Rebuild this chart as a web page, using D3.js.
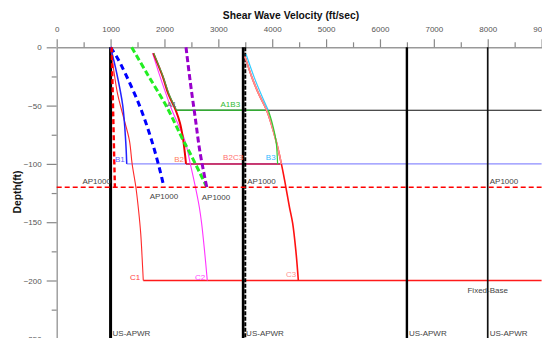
<!DOCTYPE html>
<html>
<head>
<meta charset="utf-8">
<script src="https://cdn.jsdelivr.net/npm/d3@7"></script>
<style>
  body { margin: 0; background: #fff; }
  svg { display: block; font-family: "Liberation Sans", Arial, sans-serif; }
</style>
</head>
<body>
<svg id="chart" width="542" height="338"></svg>
<script>
// axis ticks
var velTicks = [0, 1000, 2000, 3000, 4000, 5000, 6000, 7000, 8000, 9000];
var velMinor = [500, 1500, 2500, 3500, 4500, 5500, 6500, 7500, 8500];
var depthTicks = [0, -50, -100, -150, -200, -250];
var depthMinor = [-25, -75, -125, -175, -225];

// design profiles: [velocity ft/s, depth ft]
var ap1000Red = [[1020, 0], [1050, -60], [1080, -120]];
var ap1000Blue = [[1000, 0], [1113, -8], [1268, -22], [1546, -51], [1763, -80], [1930, -108], [1990, -120]];
var ap1000Green = [[1392, 0], [1670, -22], [2041, -51], [2350, -80], [2443, -88], [2660, -108], [2785, -120]];
var ap1000Purple = [[2400, 0], [2480, -30], [2570, -60], [2660, -90], [2785, -120]];

// site profiles
var profB1 = [[1000, 0], [1113, -22], [1226, -50], [1280, -80], [1300, -100]];
var profC1 = [[1000, 0], [1060, -20], [1130, -40], [1240, -60], [1350, -80], [1400, -100], [1470, -120],
              [1520, -140], [1560, -160], [1585, -180], [1607, -200]];
var profC2 = [[1780, -5], [1917, -25], [2029, -40], [2140, -54], [2380, -80], [2480, -100], [2575, -120],
              [2647, -137], [2690, -151], [2745, -175], [2795, -200]];
var profB2 = [[1793, -5], [1967, -25], [2072, -40], [2210, -54], [2288, -65], [2350, -80], [2400, -100]];
var profA1 = [[1800, -5], [1975, -25], [2085, -40], [2225, -54]];
var profB3top = [[3514, -6], [3668, -26], [3792, -40], [3927, -54]];
var profB3low = [[3927, -54], [4000, -65], [4070, -80], [4100, -100]];
var profC3 = [[3495, -8], [3625, -26], [3749, -40], [3897, -54], [4070, -80], [4170, -100], [4230, -114],
              [4320, -137], [4380, -151], [4440, -175], [4485, -200]];
var profB2C3 = [[3495, -8], [3625, -26], [3749, -40], [3897, -54], [4070, -80], [4170, -100]];

// half-space lines: [depth, from velocity, to velocity]
var baseA1 = [-54, 2225, 3927];
var baseA1B3 = [-54, 2225, 9000];
var baseB1 = [-100, 1300, 9000];
var baseB2 = [-100, 2400, 4150];
var baseAP1000 = [-120, 0, 9000];
var baseC = [-200, 1607, 9000];

// vertical uniform profiles
var usApwrVel = [1000, 3460, 6500];
var ap1000Vel = [3500, 8000];

var svg = d3.select('#chart');
var x = d3.scaleLinear().domain([0, 9000]).range([56.7, 541.6]);
var y = d3.scaleLinear().domain([0, -250]).range([47.3, 338.8]);

// title
svg.append('text')
  .attr('x', 291).attr('y', 18.5)
  .attr('text-anchor', 'middle')
  .style('font-size', '10.3px').style('font-weight', 'bold').style('fill', '#111')
  .text('Shear Wave Velocity (ft/sec)');

svg.append('text')
  .attr('transform', 'translate(21,192) rotate(-90)')
  .attr('text-anchor', 'middle')
  .style('font-size', '10.3px').style('font-weight', 'bold').style('fill', '#111')
  .text('Depth(ft)');

// axes
svg.append('g').attr('transform', 'translate(0,' + y(0) + ')')
  .call(d3.axisTop(x).tickValues(velTicks).tickFormat(d3.format('d'))
    .tickSize(8).tickPadding(7).tickSizeOuter(0));
svg.append('g').attr('transform', 'translate(0,' + y(0) + ')')
  .call(d3.axisTop(x).tickValues(velMinor).tickSize(5).tickFormat('').tickSizeOuter(0))
  .select('.domain').remove();
svg.append('g').attr('transform', 'translate(' + x(0) + ',0)')
  .call(d3.axisLeft(y).tickValues(depthTicks).tickFormat(d3.format('d'))
    .tickSize(10).tickPadding(5).tickSizeOuter(0));
svg.append('g').attr('transform', 'translate(' + x(0) + ',0)')
  .call(d3.axisLeft(y).tickValues(depthMinor).tickSize(5).tickFormat('').tickSizeOuter(0))
  .select('.domain').remove();

svg.selectAll('.domain').attr('stroke', '#999').attr('stroke-width', 1.4);
svg.selectAll('.tick line').attr('stroke', '#888').attr('stroke-width', 1.2);
svg.selectAll('.tick text').style('font-size', '8px').style('fill', '#555')
  .style('font-family', '"Liberation Sans", Arial, sans-serif');

var plot = svg.append('g');
var line = d3.line()
  .x(function(d) { return x(d[0]); })
  .y(function(d) { return y(d[1]); })
  .curve(d3.curveCatmullRom.alpha(0.5));

function drawProfile(data, color, width, dash) {
  plot.append('path')
    .datum(data)
    .attr('d', line)
    .attr('fill', 'none')
    .attr('stroke', color)
    .attr('stroke-width', width)
    .attr('stroke-dasharray', dash || null);
}
function drawBase(b, color, width, dash) {
  drawProfile([[b[1], b[0]], [b[2], b[0]]], color, width, dash);
}
function drawVertical(v, color, width, dash) {
  plot.append('line')
    .attr('x1', x(v)).attr('x2', x(v))
    .attr('y1', y(0)).attr('y2', y(-250))
    .attr('stroke', color).attr('stroke-width', width)
    .attr('stroke-dasharray', dash || null);
}

// half-space lines
drawBase(baseA1B3, '#111', 1.2);
drawBase(baseA1, '#33aa33', 1.4);
drawBase(baseB1, '#8c8cff', 1.3);
drawBase(baseB2, '#cc1144', 1.5);
drawBase(baseC, '#ff1a1a', 1.3);

// vertical uniform profiles
drawVertical(usApwrVel[0], '#000', 3);
drawVertical(usApwrVel[1], '#000', 2.6);
drawVertical(ap1000Vel[0], '#000', 2, '4,1.5');
drawVertical(usApwrVel[2], '#000', 2.4);
drawVertical(ap1000Vel[1], '#111', 1.7);

// site curves
drawProfile(profC1, '#ff2a2a', 1.1);
drawProfile(profB1, '#2222ff', 1.5);
drawProfile(profC2, '#ff33ff', 1.1);
drawProfile(profB2, '#ee0000', 2);
drawProfile(profA1, '#44aa44', 1.1);
drawProfile(profC3, '#ff1111', 1.6);
drawProfile(profB2C3, '#ff9090', 1.6);
drawProfile(profB3top, '#33ccff', 1.2);
drawProfile(profB3low, '#33cc33', 1.2);

// AP1000 design profiles
drawProfile(ap1000Blue, '#0000ff', 3, '6,4');
drawProfile(ap1000Green, '#22ee22', 3, '6,3');
drawProfile(ap1000Purple, '#9900cc', 3, '6,3');
drawProfile(ap1000Red, '#ff0000', 2.4, '5,3');
drawBase(baseAP1000, '#ff0000', 1.6, '5,3');

// labels: [text, velocity, depth, anchor, dx, dy, color]
var labels = [
  ['AP1000', ap1000Red[2][0], -120, 'end', -4, -3, '#444'],
  ['AP1000', ap1000Blue[6][0], -120, 'middle', 0, 12, '#444'],
  ['AP1000', ap1000Purple[4][0], -120, 'start', -5, 13, '#444'],
  ['AP1000', ap1000Vel[0], -120, 'start', 2, -3, '#444'],
  ['AP1000', ap1000Vel[1], -120, 'start', 2, -3, '#444'],
  ['A1', profA1[3][0], -54, 'end', 0, -3, '#666'],
  ['A1B3', usApwrVel[1], -54, 'end', -3, -3, '#33bb33'],
  ['B1', profB1[4][0], -100, 'end', -2, -2, '#6060ff'],
  ['B2', profB2[6][0], -100, 'end', -2, -2, '#ff8060'],
  ['B2C3', usApwrVel[1], -100, 'end', 0, -4, '#ff7070'],
  ['B3', profB3low[3][0], -100, 'end', -2, -4, '#33bbff'],
  ['C1', profC1[10][0], -200, 'end', -3, -1, '#ff4040'],
  ['C2', profC2[10][0], -200, 'end', -2, -1, '#ff44ff'],
  ['C3', profC3[10][0], -200, 'end', -2, -4, '#ff9090'],
  ['Fixed-Base', ap1000Vel[1], -200, 'middle', 0, 12, '#444'],
  ['US-APWR', usApwrVel[0], -250, 'start', 2, -3, '#444'],
  ['US-APWR', usApwrVel[1], -250, 'start', 3, -3, '#444'],
  ['US-APWR', usApwrVel[2], -250, 'start', 2, -3, '#444'],
  ['US-APWR', ap1000Vel[1], -250, 'start', 2, -3, '#444']
];

svg.append('g').selectAll('text')
  .data(labels)
  .enter().append('text')
  .attr('x', function(d) { return x(d[1]) + d[4]; })
  .attr('y', function(d) { return y(d[2]) + d[5]; })
  .attr('text-anchor', function(d) { return d[3]; })
  .style('font-size', '8px')
  .style('fill', function(d) { return d[6]; })
  .text(function(d) { return d[0]; });
</script>
</body>
</html>
